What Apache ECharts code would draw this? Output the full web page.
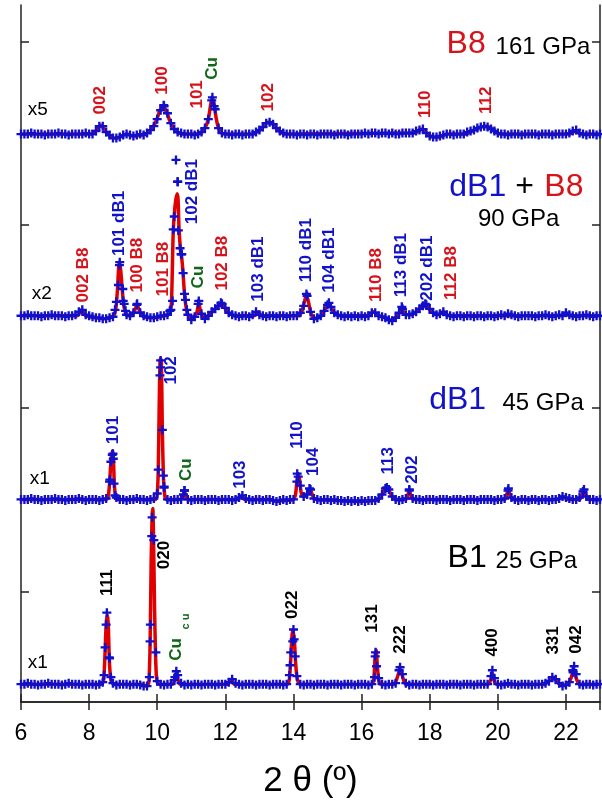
<!DOCTYPE html>
<html>
<head>
<meta charset="utf-8">
<script src="https://cdn.jsdelivr.net/npm/echarts@6/dist/echarts.min.js"></script>
<style>
html, body { margin: 0; padding: 0; background: #fff; }
#chart { width: 602px; height: 804px; }
</style>
</head>
<body>
<div id="chart"></div>
<script>
// observed points sit on a 0.1 deg grid from 6 to 23 (height above each trace's baseline)
const xStart = 6;
const xStep = 0.1;

// B8, 161 GPa (x5)
const obsB8 = [
  0,0,0,1,0,0,0,-1,0,0,
  0,1,0,0,-1,0,0,0,0,1,
  0,0,3,8,8,2,-1,-4,-4,-3,
  -1,0,-1,-2,-1,0,-1,1,4,8,
  15,24,28,21,11,5,2,1,0,0,
  0,-1,0,2,6,15,34,25,6,1,
  0,0,-1,0,0,-1,0,0,0,2,
  4,7,11,12,10,6,3,1,0,0,
  0,-1,0,0,-1,0,0,-1,0,0,
  0,0,-1,0,0,0,-1,0,0,0,
  0,1,0,1,1,0,1,1,0,1,
  0,0,1,1,1,1,3,4,5,1,
  -2,-3,-3,-2,-1,0,0,-1,0,0,
  0,2,3,4,6,7,8,7,5,3,
  1,0,0,-1,0,0,0,-1,0,0,
  0,0,-1,0,0,0,-1,0,0,0,
  0,1,3,4,1,0,-1,0,0,-1,
  0
];
const extraB8 = [[10.19, 29], [11.62, 37], [11.67, 28]];
const fitB8 = [[6,0],[8.05,0],[8.22,4],[8.34,9],[8.46,4],[8.58,-1],[8.70,-4],[8.82,-4],[8.95,-2],[9.1,0],[9.3,-2],[9.55,-1],
  [9.70,1],[9.85,6],[9.98,14],[10.08,24],[10.18,28],[10.28,22],[10.38,12],[10.50,5],[10.65,1],[10.8,0],
  [11.25,1],[11.40,6],[11.50,15],[11.57,30],[11.62,36],[11.67,30],[11.73,16],[11.80,6],[11.90,1],[12.0,0],
  [12.80,0],[12.95,3],[13.10,7],[13.20,11],[13.29,12],[13.40,10],[13.52,5],[13.68,1],[13.80,0],
  [17.4,1],[17.55,1],[17.78,5],[17.95,0],[18.1,-3],[18.3,-3],[18.5,0],
  [19.03,0],[19.30,4],[19.50,7],[19.65,8],[19.80,6],[20.0,1],[20.1,0],[22.1,0],[22.29,3],[22.45,0],[23,0]];

// dB1 + B8, 90 GPa (x2)
const obsMix = [
  0,0,1,0,0,0,-1,0,0,1,
  0,0,0,-1,0,0,1,4,6,1,
  0,-1,-2,-2,-3,-3,-2,-1,14,54,
  15,1,0,3,11,3,0,-1,-2,-2,
  -1,0,0,1,6,100,135,62,22,1,
  -4,-1,12,2,-3,0,4,7,10,12,
  8,3,1,0,-1,0,0,-1,1,4,
  1,0,-1,0,0,-1,0,0,-1,0,
  0,0,3,10,20,4,-3,-2,0,5,
  11,9,3,1,0,-1,0,-1,0,-1,
  0,-1,0,3,3,0,-1,-2,-4,-5,
  -2,3,7,1,1,2,4,7,10,11,
  7,3,1,2,4,1,0,-1,0,0,
  -1,0,0,-1,0,0,-1,0,0,-1,
  0,1,0,2,1,0,-1,0,0,0,
  0,-1,0,0,1,0,-1,0,1,0,
  3,1,0,-1,0,0,1,0,-1,0,
  0
];
const extraMix = [[8.76,6],[8.86,31],[8.89,51],[8.99,27],[9.03,12],[9.07,5],[9.41,12],[10.37,5],[10.45,15],[10.47,87],
  [10.55,157],[10.60,135],[10.62,86],[10.67,68],[10.72,62],[10.76,43],[10.83,16],[10.87,6],[11.22,15],[11.87,13],
  [14.38,22],[15.04,13],[17.18,9],[17.87,12]];
const fitMix = [[6,0],[7.65,0],[7.78,6],[7.90,0],[8.2,-2],[8.45,-3],[8.65,-1],[8.72,0],[8.78,6],[8.83,25],[8.87,50],[8.90,54],
  [8.93,45],[8.97,28],[9.01,12],[9.06,4],[9.12,0],[9.25,0],[9.33,5],[9.41,11],[9.48,5],[9.56,0],[9.75,-2],[9.95,-2],
  [10.2,0],[10.32,1],[10.38,3],[10.42,15],[10.47,85],[10.52,110],[10.58,123],[10.61,118],[10.64,88],[10.68,68],[10.72,58],
  [10.76,42],[10.80,22],[10.84,10],[10.88,3],[10.94,-1],[11.02,-4],[11.10,0],[11.17,4],[11.22,14],[11.27,4],[11.33,-1],
  [11.40,-3],[11.50,0],[11.65,5],[11.78,10],[11.88,12],[11.98,8],[12.10,3],[12.25,0],[12.85,0],[12.96,4],[13.06,0],
  [14.15,0],[14.25,5],[14.32,14],[14.38,21],[14.44,14],[14.50,4],[14.58,-2],[14.65,-3],[14.75,-1],[14.82,0],[14.92,6],
  [15.00,11],[15.05,12],[15.12,7],[15.22,2],[15.35,0],[16.20,0],[16.35,4],[16.50,0],[16.70,-2],[16.87,-5],[17.02,-1],
  [17.08,1],[17.14,5],[17.18,8],[17.23,4],[17.30,1],[17.45,1],[17.60,4],[17.75,9],[17.87,11],[17.97,7],[18.10,3],
  [18.25,1],[18.40,4],[18.55,0],[21.9,0],[22.0,3],[22.1,0],[23,0]];

// dB1, 45 GPa (x1)
const obsDB1 = [
  0,0,0,1,0,0,-1,0,0,0,
  1,0,0,-1,0,0,0,1,0,-1,
  0,0,0,-1,0,1,18,46,2,0,
  0,-1,0,0,1,0,0,-1,0,1,
  6,140,12,0,-1,0,0,0,9,0,
  -1,0,0,0,-1,0,0,0,-1,0,
  0,0,-1,0,2,4,1,0,-1,0,
  0,-1,0,0,-1,-2,-1,0,-1,0,
  0,18,14,3,5,10,1,0,-1,0,
  0,-1,0,-1,-1,-2,-1,-2,-1,-2,
  -1,-2,-1,-1,-1,1,5,11,10,3,
  0,-1,0,1,9,1,0,0,-1,0,
  0,0,-1,0,0,0,-1,0,0,0,
  -1,0,0,0,-1,0,0,0,0,-1,
  0,0,1,9,2,0,-1,0,0,-1,
  0,0,-1,0,0,-1,0,0,1,3,
  2,1,0,0,2,8,3,0,0,-1,
  0
];
const extraDB1 = [[8.61,20],[8.64,38],[8.68,45],[8.71,41],[8.73,16],[8.76,4],[10.03,30],[10.08,125],[10.10,133],[10.15,70],
  [10.18,24],[10.20,13],[10.77,5],[10.80,9],[14.11,26],[14.14,23],[14.47,11],[16.74,12],[17.40,10],[20.31,11],[22.53,10]];
const fitDB1 = [[6,0],[8.50,0],[8.56,3],[8.60,16],[8.64,38],[8.68,49],[8.71,44],[8.74,16],[8.78,3],[8.85,0],[9.95,0],[10.0,6],
  [10.03,30],[10.06,100],[10.09,142],[10.12,140],[10.15,70],[10.18,25],[10.21,8],[10.26,0],[10.70,0],[10.76,4],[10.80,8],
  [10.84,4],[10.90,0],[12.38,0],[12.47,3],[12.56,0],[13.3,0],[13.5,-2],[13.8,-1],[14.00,0],[14.06,5],[14.10,18],[14.14,25],
  [14.18,20],[14.22,8],[14.27,3],[14.32,3],[14.42,7],[14.48,11],[14.54,6],[14.60,1],[14.68,0],[15.3,-1],[15.8,-2],[16.4,-1],
  [16.50,0],[16.60,5],[16.70,11],[16.76,12],[16.82,8],[16.90,3],[16.98,0],[17.30,0],[17.36,5],[17.40,9],[17.45,4],[17.52,0],
  [20.20,0],[20.26,5],[20.31,10],[20.36,4],[20.44,0],[21.75,0],[21.90,3],[22.05,0],[22.40,0],[22.48,5],[22.53,9],[22.58,5],
  [22.66,0],[23,0]];

// B1, 25 GPa (x1)
const obsB1 = [
  0,0,1,0,0,-1,0,0,1,0,
  0,0,-1,0,1,0,0,0,-1,0,
  0,0,-1,0,2,60,26,1,-1,0,
  0,0,-1,0,0,-1,-2,-2,60,145,
  3,0,-1,0,0,4,9,1,-1,0,
  -1,0,0,-1,0,0,0,-1,0,0,
  0,2,5,1,0,-1,0,0,0,-1,
  0,0,0,-1,0,0,0,-1,0,19,
  55,8,0,-1,0,0,-1,0,0,0,
  -1,0,0,0,-1,0,0,0,-1,0,
  0,0,-1,0,28,6,0,-1,0,0,
  1,14,10,1,-1,0,0,-1,0,0,
  0,-1,0,0,0,-1,0,0,0,-1,
  0,0,0,-1,0,0,0,0,8,6,
  0,-1,0,1,0,0,-1,0,0,0,
  -1,0,0,0,1,3,7,5,1,-2,
  -1,2,14,10,0,-1,0,0,-1,0,
  0
];
const extraB1 = [[8.44,9],[8.47,37],[8.52,72],[8.59,27],[8.64,7],[9.77,7],[9.79,43],[9.84,149],[9.85,168],[9.96,32],
  [10.52,7],[10.56,13],[13.88,9],[13.92,32],[13.98,43],[14.02,45],[14.05,28],[16.38,7],[16.41,32],[16.44,18],
  [17.13,17],[19.84,14],[22.21,12],[22.24,18]];
const fitB1 = [[6.0,0],[8.35,0],[8.42,3],[8.46,25],[8.50,60],[8.53,70],[8.56,62],[8.59,28],[8.62,10],[8.66,2],[8.75,0],
  [9.55,0],[9.68,-2],[9.75,1],[9.79,40],[9.82,120],[9.85,170],[9.87,177],[9.89,150],[9.92,80],[9.95,30],[9.98,6],[10.03,0],
  [10.45,0],[10.52,6],[10.56,11],[10.60,6],[10.67,0],[12.08,0],[12.17,5],[12.26,0],[13.82,0],[13.88,5],[13.92,25],[13.96,50],
  [13.99,55],[14.03,42],[14.07,18],[14.12,4],[14.2,0],[16.30,0],[16.36,6],[16.40,30],[16.43,34],[16.46,20],[16.50,5],
  [16.56,0],[16.95,0],[17.06,8],[17.13,15],[17.20,8],[17.30,0],[19.72,0],[19.80,5],[19.84,11],[19.88,5],[19.96,0],
  [21.35,0],[21.55,5],[21.62,7],[21.72,3],[21.85,-1],[22.05,0],[22.15,6],[22.23,15],[22.30,6],[22.40,0],[23.0,0]];

// baseline of each trace on the stacked y axis, top trace first
const panelOffset = [572, 389, 204, 18];
const yTicks = [111, 296, 481, 665];

// peak indices: [text, 2theta, stacked y, colour]
const peakLabels = [
  ['002', 8.34, 606, 'r'], ['100', 10.15, 626, 'r'], ['101', 11.17, 612, 'r'], ['Cu', 11.62, 638, 'g'],
  ['102', 13.25, 609, 'r'], ['110', 17.86, 602, 'r'], ['112', 19.66, 606, 'r'],
  ['002 B8', 7.83, 430, 'r'], ['101 dB1', 8.88, 482, 'b'], ['100 B8', 9.41, 440, 'r'], ['101 B8', 10.18, 436, 'r'],
  ['102 dB1', 11.02, 514, 'b'], ['Cu', 11.2, 428, 'g'], ['102 B8', 11.91, 442, 'r'], ['103 dB1', 12.98, 436, 'b'],
  ['110 dB1', 14.37, 455, 'b'], ['104 dB1', 15.06, 445, 'b'], ['110 B8', 16.44, 430, 'r'], ['113 dB1', 17.16, 440, 'b'],
  ['202 dB1', 17.92, 437, 'b'], ['112 B8', 18.62, 432, 'r'],
  ['101', 8.71, 274, 'b'], ['102', 10.42, 334, 'b'], ['Cu', 10.84, 234, 'g'], ['103', 12.44, 229, 'b'],
  ['110', 14.11, 269, 'b'], ['104', 14.59, 242, 'b'], ['113', 16.79, 243, 'b'], ['202', 17.50, 234, 'b'],
  ['111', 8.54, 120, 'k'], ['020', 10.2, 148, 'k'], ['Cu', 10.57, 53, 'g'], ['022', 13.98, 98, 'k'],
  ['131', 16.31, 84, 'k'], ['222', 17.13, 63, 'k'], ['400', 19.84, 60, 'k'], ['331', 21.62, 62, 'k'], ['042', 22.30, 63, 'k']
];
const smallLabels = [['c u', 10.83, 81, 'g']];

// phase / pressure / scale texts: [text, 2theta (left edge), stacked y, colour, size]
const panelTexts = [
  ['B8', 18.48, 663, 'r', 32], ['161 GPa', 19.92, 659, 'k', 24], ['x5', 6.18, 596, 'k', 19],
  ['dB1', 18.56, 519, 'b', 32], ['+', 20.50, 519, 'k', 32], ['B8', 21.35, 519, 'r', 32],
  ['90 GPa', 19.40, 486, 'k', 24], ['x2', 6.30, 411, 'k', 19],
  ['dB1', 17.97, 304, 'b', 32], ['45 GPa', 20.12, 301, 'k', 24], ['x1', 6.24, 225, 'k', 19],
  ['B1', 18.51, 145, 'k', 32], ['25 GPa', 19.92, 142, 'k', 24], ['x1', 6.18, 40, 'k', 19]
];

const colours = { r: '#d8121a', b: '#1212c8', g: '#13671a', k: '#000000' };
const fitColour = '#e00000';
const obsColour = '#1010cc';
const fontFamily = '"Liberation Sans", Arial, Helvetica, sans-serif';
const plus = 'path://M3.7,0H6.3V3.7H10V6.3H6.3V10H3.7V6.3H0V3.7H3.7Z';

function gridPoints(values, extra, off) {
  const pts = values.map((v, i) => [+(xStart + i * xStep).toFixed(2), v + off]);
  extra.forEach(p => pts.push([p[0], p[1] + off]));
  return pts;
}
function shift(points, off) {
  return points.map(p => [p[0], p[1] + off]);
}

const traces = [
  [obsB8, extraB8, fitB8],
  [obsMix, extraMix, fitMix],
  [obsDB1, extraDB1, fitDB1],
  [obsB1, extraB1, fitB1]
];

const series = [];
traces.forEach((t, k) => {
  series.push({
    type: 'line',
    data: shift(t[2], panelOffset[k]),
    showSymbol: false,
    smooth: 0.25,
    lineStyle: { color: fitColour, width: 3.5 },
    z: 2
  });
});
traces.forEach((t, k) => {
  series.push({
    type: 'scatter',
    data: gridPoints(t[0], t[1], panelOffset[k]),
    symbol: plus,
    symbolSize: 9,
    itemStyle: { color: obsColour, opacity: 1 },
    z: 3
  });
});

function rotatedLabels(list, size) {
  return {
    type: 'scatter',
    symbolSize: 1,
    itemStyle: { color: 'rgba(0,0,0,0)', opacity: 1 },
    z: 5,
    data: list.map(l => ({
      value: [l[1], l[2]],
      name: l[0],
      label: {
        show: true, position: 'inside', rotate: 90, formatter: '{b}',
        align: 'center', verticalAlign: 'middle',
        color: colours[l[3]], fontSize: size, fontWeight: 'bold', fontFamily: fontFamily
      }
    }))
  };
}
series.push(rotatedLabels(peakLabels, 17));
series.push(rotatedLabels(smallLabels, 11));
series.push({
  type: 'scatter',
  symbolSize: 1,
  itemStyle: { color: 'rgba(0,0,0,0)', opacity: 1 },
  z: 5,
  data: panelTexts.map(l => ({
    value: [l[1], l[2]],
    name: l[0],
    label: {
      show: true, position: 'right', distance: 0, formatter: '{b}',
      color: colours[l[3]], fontSize: l[4], fontFamily: fontFamily
    }
  }))
});

const axisLine = { show: true, lineStyle: { color: '#222', width: 1.5 } };
const chart = echarts.init(document.getElementById('chart'));
chart.setOption({
  animation: false,
  backgroundColor: '#fff',
  grid: { left: 21, right: 2, top: 5, bottom: 97 },
  xAxis: [{
    type: 'value', min: 6, max: 23, interval: 2, position: 'bottom',
    axisLine: axisLine,
    axisTick: { inside: true, length: 8, lineStyle: { color: '#222', width: 1.5 } },
    axisLabel: { fontSize: 23, color: '#000', margin: 20, fontFamily: fontFamily, showMaxLabel: false },
    splitLine: { show: false },
    name: '2 θ (º)', nameLocation: 'middle', nameGap: 62,
    nameTextStyle: { fontSize: 35, color: '#000', fontFamily: fontFamily }
  }, {
    type: 'value', min: 6, max: 23, interval: 2, position: 'top',
    axisLine: axisLine,
    axisTick: { inside: true, length: 8, lineStyle: { color: '#222', width: 1.5 } },
    axisLabel: { show: false },
    splitLine: { show: false }
  }],
  yAxis: [0, 1].map(i => ({
    type: 'value', min: 0, max: 702, position: i ? 'right' : 'left',
    axisLine: axisLine,
    axisTick: { show: true, inside: true, length: 8, customValues: yTicks, lineStyle: { color: '#222', width: 1.5 } },
    axisLabel: { show: false },
    splitLine: { show: false }
  })),
  series: series
});
</script>
</body>
</html>
